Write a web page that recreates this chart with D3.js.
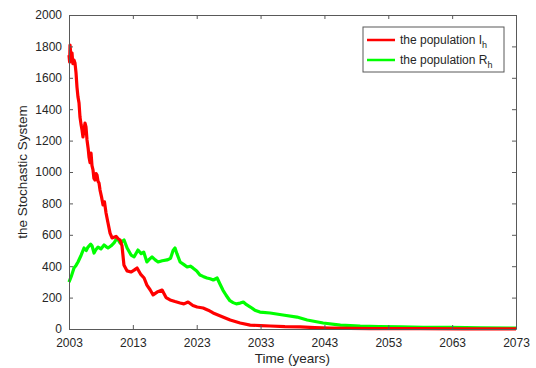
<!DOCTYPE html>
<html>
<head>
<meta charset="utf-8">
<script src="https://cdn.jsdelivr.net/npm/d3@7"></script>
<style>
  body { margin: 0; background: #fff; }
  text { font-family: "Liberation Sans", Arial, sans-serif; }
</style>
</head>
<body>
<svg id="chart" width="536" height="368"></svg>
<script>
// Time axis (years) and the two simulated populations
const xTicks = [2003, 2013, 2023, 2033, 2043, 2053, 2063, 2073];
const yTicks = [0, 200, 400, 600, 800, 1000, 1200, 1400, 1600, 1800, 2000];

const ihYears = [2003.0, 2003.1, 2003.16, 2003.3, 2003.47, 2003.6, 2003.78, 2003.94, 2004.1, 2004.25,
  2004.4, 2004.57, 2004.72, 2004.9, 2005.04, 2005.19, 2005.35, 2005.51, 2005.66, 2005.82,
  2006.0, 2006.13, 2006.3, 2006.45, 2006.6, 2006.76, 2006.9, 2007.08, 2007.25, 2007.39,
  2007.55, 2007.7, 2007.86, 2008.1, 2008.33, 2008.55, 2008.8, 2009.11, 2009.43, 2009.74,
  2010.05, 2010.37, 2010.7, 2011.0, 2011.3, 2011.6, 2012.1, 2012.7, 2013.2, 2013.66,
  2014.2, 2014.76, 2015.2, 2015.7, 2016.17, 2016.8, 2017.58, 2018.2, 2018.83, 2019.6,
  2020.4, 2021.0, 2021.65, 2022.4, 2023.06, 2024.0, 2024.8, 2025.57, 2026.9, 2028.24,
  2029.8, 2031.37, 2033.0, 2034.5, 2036.8, 2039.2, 2041.5, 2043.9, 2047.0, 2050.2,
  2054.0, 2058.0, 2065.0, 2073.0];
const ihValues = [1745, 1700, 1809, 1740, 1758, 1690, 1713, 1694, 1631, 1541,
  1480, 1439, 1350, 1300, 1268, 1223, 1270, 1312, 1287, 1204,
  1150, 1096, 1060, 1121, 1040, 1013, 960, 949, 990, 981,
  940, 930, 885, 840, 790, 810, 739, 675, 611, 580,
  585, 590, 575, 567, 530, 408, 370, 363, 375, 389,
  350, 325, 280, 250, 217, 235, 248, 200, 185, 175,
  166, 160, 172, 150, 140, 134, 120, 102, 80, 57,
  38, 25, 22, 19, 15, 13, 9, 6, 4, 3,
  2, 2, 1, 1];

const rhYears = [2003.0, 2003.4, 2003.78, 2004.1, 2004.41, 2004.9, 2005.35, 2005.7, 2005.98, 2006.4,
  2006.6, 2006.92, 2007.2, 2007.55, 2008.0, 2008.49, 2008.8, 2009.11, 2009.6, 2010.05,
  2010.52, 2011.0, 2011.62, 2012.1, 2012.72, 2013.2, 2013.8, 2014.3, 2014.7, 2015.2,
  2015.6, 2016.0, 2016.5, 2016.95, 2017.6, 2018.36, 2018.9, 2019.3, 2019.6, 2019.9,
  2020.4, 2021.0, 2021.5, 2022.0, 2022.4, 2023.0, 2023.5, 2024.0, 2024.6, 2025.1,
  2025.6, 2026.2, 2026.6, 2027.1, 2027.6, 2028.2, 2028.7, 2029.2, 2029.8, 2030.3,
  2030.8, 2031.4, 2032.1, 2032.9, 2034.5, 2036.5, 2038.7, 2040.3, 2042.8, 2045.5,
  2048.6, 2051.5, 2054.9, 2058.5, 2062.7, 2067.5, 2073.0];
const rhValues = [299, 340, 389, 405, 427, 470, 516, 500, 522, 540,
  530, 484, 505, 522, 510, 535, 525, 516, 530, 548,
  580, 548, 567, 516, 471, 460, 503, 480, 490, 427,
  445, 459, 440, 427, 435, 440, 450, 500, 516, 480,
  427, 410, 395, 400, 389, 370, 344, 335, 325, 320,
  312, 325, 290, 248, 215, 180, 168, 160, 165, 172,
  155, 140, 120, 108, 102, 89, 76, 57, 38, 25,
  19, 16, 13, 11, 10, 8, 6];

const series = [
  { name: "R", sub: "h", color: "#00ff00", years: rhYears, values: rhValues },
  { name: "I", sub: "h", color: "#ff0000", years: ihYears, values: ihValues }
];

const W = 536, H = 368;
const m = { left: 69, right: 20, top: 15, bottom: 39 };
const svg = d3.select("#chart");

const x = d3.scaleLinear().domain([2003, 2073]).range([m.left, W - m.right]);
const y = d3.scaleLinear().domain([0, 2000]).range([H - m.bottom, m.top]);

const axisColor = "#595959";
const textColor = "#262626";
const tickLen = 4;

// Data lines
const line = d3.line().x(d => x(d[0])).y(d => y(d[1]));
series.forEach(s => {
  svg.append("path")
    .datum(s.years.map((t, i) => [t, s.values[i]]))
    .attr("d", line)
    .attr("fill", "none")
    .attr("stroke", s.color)
    .attr("stroke-width", 3.2)
    .attr("stroke-linejoin", "round");
});

// Axes with inward ticks on all four sides (boxed frame)
function styleAxis(g) {
  g.selectAll("path.domain").attr("stroke", axisColor);
  g.selectAll(".tick line").attr("stroke", axisColor);
  g.selectAll(".tick text").attr("fill", textColor).attr("font-size", 12);
}
svg.append("g").attr("transform", `translate(0,${y(0)})`)
  .call(d3.axisBottom(x).tickValues(xTicks).tickFormat(d3.format("d"))
    .tickSizeInner(-tickLen).tickSizeOuter(0).tickPadding(9))
  .call(styleAxis);
svg.append("g").attr("transform", `translate(0,${y(2000)})`)
  .call(d3.axisTop(x).tickValues(xTicks).tickFormat("").tickSizeInner(-tickLen).tickSizeOuter(0))
  .call(styleAxis);
svg.append("g").attr("transform", `translate(${x(2003)},0)`)
  .call(d3.axisLeft(y).tickValues(yTicks).tickFormat(d3.format("d"))
    .tickSizeInner(-tickLen).tickSizeOuter(0).tickPadding(7))
  .call(styleAxis);
svg.append("g").attr("transform", `translate(${x(2073)},0)`)
  .call(d3.axisRight(y).tickValues(yTicks).tickFormat("").tickSizeInner(-tickLen).tickSizeOuter(0))
  .call(styleAxis);

// Axis titles
svg.append("text")
  .attr("x", (x(2003) + x(2073)) / 2).attr("y", H - 5)
  .attr("text-anchor", "middle").attr("font-size", 13.5).attr("fill", textColor)
  .text("Time (years)");
svg.append("text")
  .attr("transform", `translate(27,${(y(0) + y(2000)) / 2}) rotate(-90)`)
  .attr("text-anchor", "middle").attr("font-size", 13.5).attr("fill", textColor)
  .text("the Stochastic System");

// Legend
const lg = svg.append("g").attr("transform", "translate(363,27)");
lg.append("rect").attr("width", 141).attr("height", 45)
  .attr("fill", "#fff").attr("stroke", axisColor).attr("stroke-width", 1);
const legendItems = [series[1], series[0]];
legendItems.forEach((s, i) => {
  const cy = 13 + i * 20;
  lg.append("line").attr("x1", 4).attr("x2", 32).attr("y1", cy).attr("y2", cy)
    .attr("stroke", s.color).attr("stroke-width", 2.5);
  const t = lg.append("text").attr("x", 37).attr("y", cy + 4)
    .attr("font-size", 12).attr("fill", textColor);
  t.append("tspan").text("the population " + s.name);
  t.append("tspan").attr("dy", 4).attr("font-size", 9).text(s.sub);
});
</script>
</body>
</html>
